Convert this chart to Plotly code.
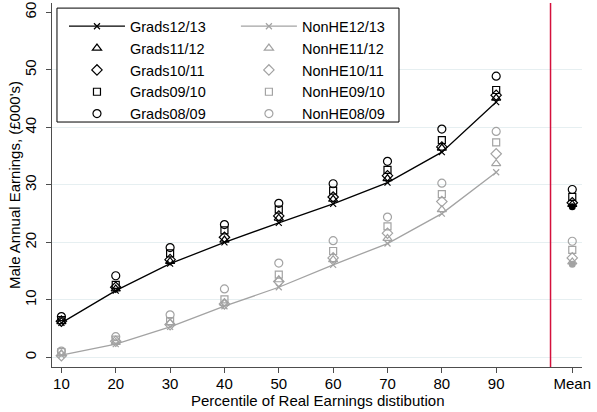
import plotly.graph_objects as go

pct = [10, 20, 30, 40, 50, 60, 70, 80, 90]
tick_labels = ["10", "20", "30", "40", "50", "60", "70", "80", "90", "Mean"]
years = ["12/13", "11/12", "10/11", "09/10", "08/09"]

grads = {
    "12/13": [6.0, 11.6, 16.3, 20.0, 23.4, 26.7, 30.4, 35.7, 44.4],
    "11/12": [6.2, 11.9, 16.7, 20.4, 24.2, 27.5, 31.1, 36.4, 45.1],
    "10/11": [6.3, 12.2, 17.0, 20.9, 24.6, 27.9, 31.6, 36.6, 45.6],
    "09/10": [6.5, 12.6, 18.1, 22.1, 25.7, 29.0, 32.6, 37.8, 46.5],
    "08/09": [7.1, 14.2, 19.1, 23.1, 26.8, 30.2, 34.1, 39.7, 48.9],
}
grads_mean = {"12/13": 26.2, "11/12": 26.6, "10/11": 26.9, "09/10": 27.9, "08/09": 29.2}

nonhe = {
    "12/13": [0.4, 2.3, 5.3, 8.9, 12.2, 16.1, 19.8, 25.0, 32.2],
    "11/12": [0.6, 2.6, 6.0, 9.4, 13.5, 17.0, 20.7, 25.7, 33.7],
    "10/11": [0.3, 2.8, 5.7, 9.3, 13.2, 17.3, 21.6, 27.1, 35.4],
    "09/10": [0.9, 3.1, 6.3, 10.1, 14.4, 18.5, 22.8, 28.4, 37.4],
    "08/09": [1.1, 3.6, 7.4, 11.9, 16.4, 20.3, 24.4, 30.3, 39.3],
}
nonhe_mean = {"12/13": 16.2, "11/12": 16.6, "10/11": 17.3, "09/10": 18.7, "08/09": 20.2}

MEAN_X = 104
VLINE_X = 100
tick_pos = pct + [MEAN_X]

x_title = "Percentile of Real Earnings distibution"
y_title = "Male Annual Earnings, (£000's)"

symbols = {"11/12": "triangle-up-open", "10/11": "diamond-open",
           "09/10": "square-open", "08/09": "circle-open"}
sizes = {"11/12": 8, "10/11": 8, "09/10": 7, "08/09": 8}

BLACK = "#000000"
GRAY = "#a3a3a3"
AXIS = "#4d4d4d"
FONT = "Liberation Sans, Arial, sans-serif"

fig = go.Figure()
for name, data, means, col, leg in (("Grads", grads, grads_mean, BLACK, "legend"),
                                    ("NonHE", nonhe, nonhe_mean, GRAY, "legend2")):
    for yr in years:
        if yr == "12/13":
            fig.add_trace(go.Scatter(
                x=pct, y=data[yr], mode="lines+markers", name=name + yr, legend=leg,
                line=dict(color=col, width=1.3),
                marker=dict(symbol="x-thin-open", size=6, color=col,
                            line=dict(color=col, width=1.2))))
            fig.add_trace(go.Scatter(
                x=[MEAN_X], y=[means[yr]], mode="markers", showlegend=False,
                marker=dict(symbol="circle", size=7, color=col,
                            line=dict(color=col, width=0))))
        else:
            fig.add_trace(go.Scatter(
                x=pct + [MEAN_X], y=data[yr] + [means[yr]], mode="markers",
                name=name + yr, legend=leg,
                marker=dict(symbol=symbols[yr], size=sizes[yr], color=col,
                            line=dict(color=col, width=1.2))))

# legend frame (single box around both legend columns)
fig.add_shape(type="rect", xref="paper", yref="paper", x0=0.0094, x1=0.6547,
              y0=0.673, y1=0.986, line=dict(color="black", width=1),
              fillcolor="white", layer="above")
fig.add_shape(type="line", xref="x", yref="paper", x0=VLINE_X, x1=VLINE_X,
              y0=0, y1=1, line=dict(color="#d4103c", width=1.5), layer="above")

# axis titles
fig.add_annotation(text=x_title, xref="paper", yref="paper", x=0.5, y=-0.0934,
                   xanchor="center", yanchor="middle", showarrow=False,
                   font=dict(size=15, family=FONT, color="black"))
fig.add_annotation(text=y_title, xref="paper", yref="paper", x=-0.0717, y=0.5,
                   xanchor="center", yanchor="middle", showarrow=False, textangle=-90,
                   font=dict(size=15, family=FONT, color="black"))

leg_common = dict(orientation="v", xanchor="left", yanchor="top",
                  bgcolor="rgba(0,0,0,0)", borderwidth=0, itemwidth=56,
                  font=dict(size=14.5, family=FONT), traceorder="normal")

fig.update_layout(
    width=597, height=412,
    margin=dict(l=52, r=15, t=3, b=45),
    paper_bgcolor="white", plot_bgcolor="white",
    font=dict(family=FONT, size=15, color="black"),
    showlegend=True,
    legend=dict(x=0.0226, y=0.980, **leg_common),
    legend2=dict(x=0.347, y=0.980, **leg_common),
    xaxis=dict(range=[8.27, 105.79], tickvals=tick_pos, ticktext=tick_labels,
               showgrid=False, zeroline=False, showline=True, linecolor=AXIS,
               linewidth=1, ticks="outside", ticklen=5, tickcolor=AXIS,
               tickfont=dict(size=15), automargin=False, ticklabelstandoff=-2),
    yaxis=dict(range=[-1.67, 61.63], tickvals=[0, 10, 20, 30, 40, 50, 60],
               showgrid=False, zeroline=False, showline=True, linecolor=AXIS,
               linewidth=1, ticks="outside", ticklen=5, tickcolor=AXIS,
               tickangle=-90, tickfont=dict(size=15), automargin=False,
               ticklabelstandoff=4),
    yaxis2=dict(range=[-1.67, 61.63], overlaying="y", tickvals=[0, 10, 20, 30, 40, 50],
                showgrid=True, gridcolor="#e6eff1", gridwidth=1, zeroline=False,
                showticklabels=False, showline=False, ticks="", automargin=False),
)
# invisible helper trace so the grid-only axis is drawn
fig.add_trace(go.Scatter(x=[pct[0]], y=[grads["12/13"][0]], yaxis="y2", mode="markers",
                         marker=dict(opacity=0), showlegend=False, hoverinfo="skip"))

fig.write_html("out.html", config={"displayModeBar": False},
               post_script="document.body.style.margin='0';")
